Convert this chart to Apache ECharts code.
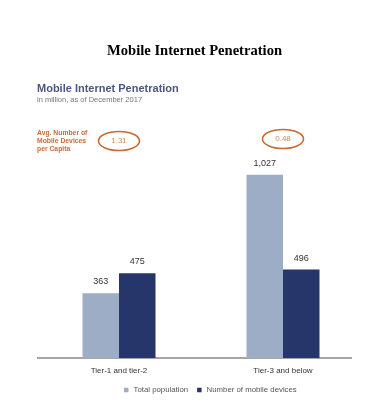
<!DOCTYPE html>
<html><head><meta charset="utf-8">
<script src="https://cdn.jsdelivr.net/npm/echarts@6/dist/echarts.min.js"></script>
<style>html,body{margin:0;padding:0;background:#fff}#c{width:378px;height:419px}</style>
</head><body><div id="c"></div>
<script>
const categories = ['Tier-1 and tier-2', 'Tier-3 and below'];
const totalPopulation = [363, 1027];
const mobileDevices = [475, 496];
const devicesPerCapita = ['1.31', '0.48'];
const seriesNames = ['Total population', 'Number of mobile devices'];

const chart = echarts.init(document.getElementById('c'));
const labelCfg = {
  show: true, position: 'top', distance: 7, color: '#333', fontSize: 9,
  fontFamily: 'Liberation Sans, Arial, sans-serif',
  formatter: p => p.value.toLocaleString('en-US')
};
chart.setOption({
  animation: false,
  title: [
    { text: 'Mobile Internet Penetration', left: 102, top: 39,
      textStyle: { fontFamily: 'Liberation Serif, Times New Roman, serif', fontWeight: 'bold', fontSize: 14.6, color: '#000' } },
    { text: 'Mobile Internet Penetration', left: 32, top: 78,
      textStyle: { fontFamily: 'Liberation Sans, Arial, sans-serif', fontWeight: 'bold', fontSize: 11, color: '#4b5683' },
      subtext: 'in million, as of December 2017', itemGap: 2,
      subtextStyle: { fontFamily: 'Liberation Sans, Arial, sans-serif', fontSize: 7.5, color: '#777' } }
  ],
  legend: {
    data: seriesNames, left: 119, top: 381, itemWidth: 4.5, itemHeight: 4.5, itemGap: 9,
    icon: 'rect',
    textStyle: { fontSize: 7.8, color: '#555', fontFamily: 'Liberation Sans, Arial, sans-serif' }
  },
  grid: { left: 37, right: 13, top: 144, bottom: 61 },
  xAxis: {
    type: 'category', data: categories,
    axisLine: { show: false }, axisTick: { show: false },
    axisLabel: { color: '#333', fontSize: 8, margin: 9, fontFamily: 'Liberation Sans, Arial, sans-serif' }
  },
  yAxis: { type: 'value', min: 0, max: 1200, show: false, splitLine: { show: false } },
  series: [
    { name: seriesNames[0], type: 'bar', data: totalPopulation, barWidth: 36.5, barGap: '0%',
      itemStyle: { color: '#9dadc6' }, label: labelCfg },
    { name: seriesNames[1], type: 'bar', data: mobileDevices, barWidth: 36.5,
      itemStyle: { color: '#27366a' }, label: labelCfg }
  ]
});

function drawGraphics() {
  const y0 = chart.convertToPixel({ yAxisIndex: 0 }, 0);
  const xl = chart.convertToPixel({ xAxisIndex: 0 }, categories[0]) - 82;
  const g = [
    { type: 'line', shape: { x1: xl, y1: y0, x2: xl + 315, y2: y0 }, style: { stroke: '#888', lineWidth: 1.5 } },
    { type: 'text', left: 37, top: 129, style: { text: 'Avg. Number of\nMobile Devices\nper Capita', fill: '#c86a33', font: 'bold 6.8px Liberation Sans, Arial, sans-serif', lineHeight: 8 } }
  ];
  categories.forEach((c, i) => {
    const cx = chart.convertToPixel({ xAxisIndex: 0 }, c);
    const cy = i === 0 ? 141 : 139;
    g.push({ type: 'ellipse', shape: { cx: cx, cy: cy, rx: 20.5, ry: 9.5 }, style: { fill: 'none', stroke: '#c86a33', lineWidth: 1.6 } });
    g.push({ type: 'text', x: cx, y: cy, style: { text: devicesPerCapita[i], fill: '#d08a5e', font: '8px Liberation Sans, Arial, sans-serif', textAlign: 'center', textVerticalAlign: 'middle' } });
  });
  chart.setOption({ graphic: g });
}
drawGraphics();
</script></body></html>
